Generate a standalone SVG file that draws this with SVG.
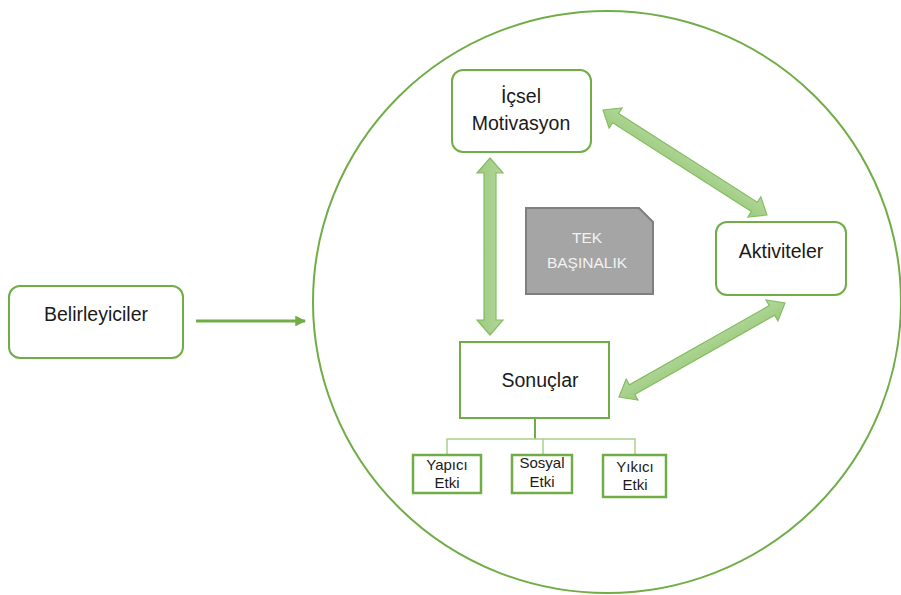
<svg xmlns="http://www.w3.org/2000/svg" width="901" height="595" viewBox="0 0 901 595">
  <defs>
    <style>
      .box { fill: #ffffff; stroke: #70ad47; stroke-width: 2; }
      .sub { fill: #ffffff; stroke: #70ad47; stroke-width: 2.5; }
      .lbl { font-family: "Liberation Sans", Arial, sans-serif; fill: #1a1a1a; text-anchor: middle; }
      .big { font-size: 19.5px; }
      .small { font-size: 15px; }
      .dbl { fill: url(#arrowFill); stroke: #84bd63; stroke-width: 1.2; stroke-linejoin: miter; }
      .tree { stroke: #a9d18e; stroke-width: 1.5; fill: none; }
    </style>
    <linearGradient id="arrowFill" x1="0" y1="0" x2="0" y2="1">
      <stop offset="0" stop-color="#b3d79b"/>
      <stop offset="1" stop-color="#9ccb7d"/>
    </linearGradient>
    <marker id="head" viewBox="0 0 10 10" refX="9" refY="5" markerWidth="3.6" markerHeight="3.6" orient="auto" markerUnits="strokeWidth">
      <path d="M0,0 L10,5 L0,10 z" fill="#70ad47"/>
    </marker>
  </defs>

  <rect width="901" height="595" fill="#ffffff"/>

  <!-- outer circle -->
  <ellipse cx="607" cy="302" rx="294" ry="291" fill="none" stroke="#70ad47" stroke-width="2"/>

  <!-- connectors -->
  <g id="connectors">
    <line x1="196" y1="321" x2="305" y2="321" stroke="#70ad47" stroke-width="3" marker-end="url(#head)"/>
    <!-- vertical double arrow: İçsel Motivasyon <-> Sonuçlar -->
    <polygon class="dbl" transform="translate(490,158) rotate(90)" points="0,0 15,-13 15,-6 162,-6 162,-13 177,0 162,13 162,6 15,6 15,13"/>
    <!-- İçsel Motivasyon <-> Aktiviteler -->
    <polygon class="dbl" transform="translate(603,110) rotate(32.63)" points="0,0 15,-12 15,-5.5 179.7,-5.5 179.7,-12 194.7,0 179.7,12 179.7,5.5 15,5.5 15,12"/>
    <!-- Aktiviteler <-> Sonuçlar -->
    <polygon class="dbl" transform="translate(619,397) rotate(-29.52)" points="0,0 15,-12 15,-5.5 175.8,-5.5 175.8,-12 190.8,0 175.8,12 175.8,5.5 15,5.5 15,12"/>
    <!-- tree under Sonuçlar -->
    <line x1="535" y1="418" x2="535" y2="439" stroke="#70ad47" stroke-width="2"/>
    <path class="tree" d="M447,454 V439 H635 V454 M543,439 V454"/>
  </g>

  <g id="belirleyiciler">
    <rect class="box" x="9" y="286" width="174" height="72" rx="11"/>
    <text class="lbl big" x="96" y="321">Belirleyiciler</text>
  </g>

  <g id="icsel-motivasyon">
    <rect class="box" x="452" y="70" width="139" height="82" rx="11"/>
    <text class="lbl big" x="521" y="103">İçsel</text>
    <text class="lbl big" x="521" y="130">Motivasyon</text>
  </g>

  <g id="aktiviteler">
    <rect class="box" x="716" y="222" width="130" height="73" rx="11"/>
    <text class="lbl big" x="781" y="258">Aktiviteler</text>
  </g>

  <g id="tek-basinalik">
    <polygon points="526,208 639,208 653,222 653,294 526,294" fill="#a5a5a5" stroke="#7f7f7f" stroke-width="2"/>
    <text class="lbl" x="587" y="243" font-size="15.5" style="fill:#f2f2f2">TEK</text>
    <text class="lbl" x="587" y="268" font-size="15.5" style="fill:#f2f2f2">BAŞINALIK</text>
  </g>

  <g id="sonuclar">
    <rect class="box" x="460" y="342" width="149" height="76"/>
    <text class="lbl big" x="540" y="387">Sonuçlar</text>
  </g>

  <g id="yapici-etki">
    <rect class="sub" x="413" y="455" width="68" height="38"/>
    <text class="lbl small" x="447" y="470">Yapıcı</text>
    <text class="lbl small" x="447" y="488">Etki</text>
  </g>

  <g id="sosyal-etki">
    <rect class="sub" x="512" y="455" width="60" height="38"/>
    <text class="lbl small" x="542" y="468">Sosyal</text>
    <text class="lbl small" x="542" y="487">Etki</text>
  </g>

  <g id="yikici-etki">
    <rect class="sub" x="603" y="455" width="63" height="42"/>
    <text class="lbl small" x="635" y="472">Yıkıcı</text>
    <text class="lbl small" x="635" y="490">Etki</text>
  </g>
</svg>
